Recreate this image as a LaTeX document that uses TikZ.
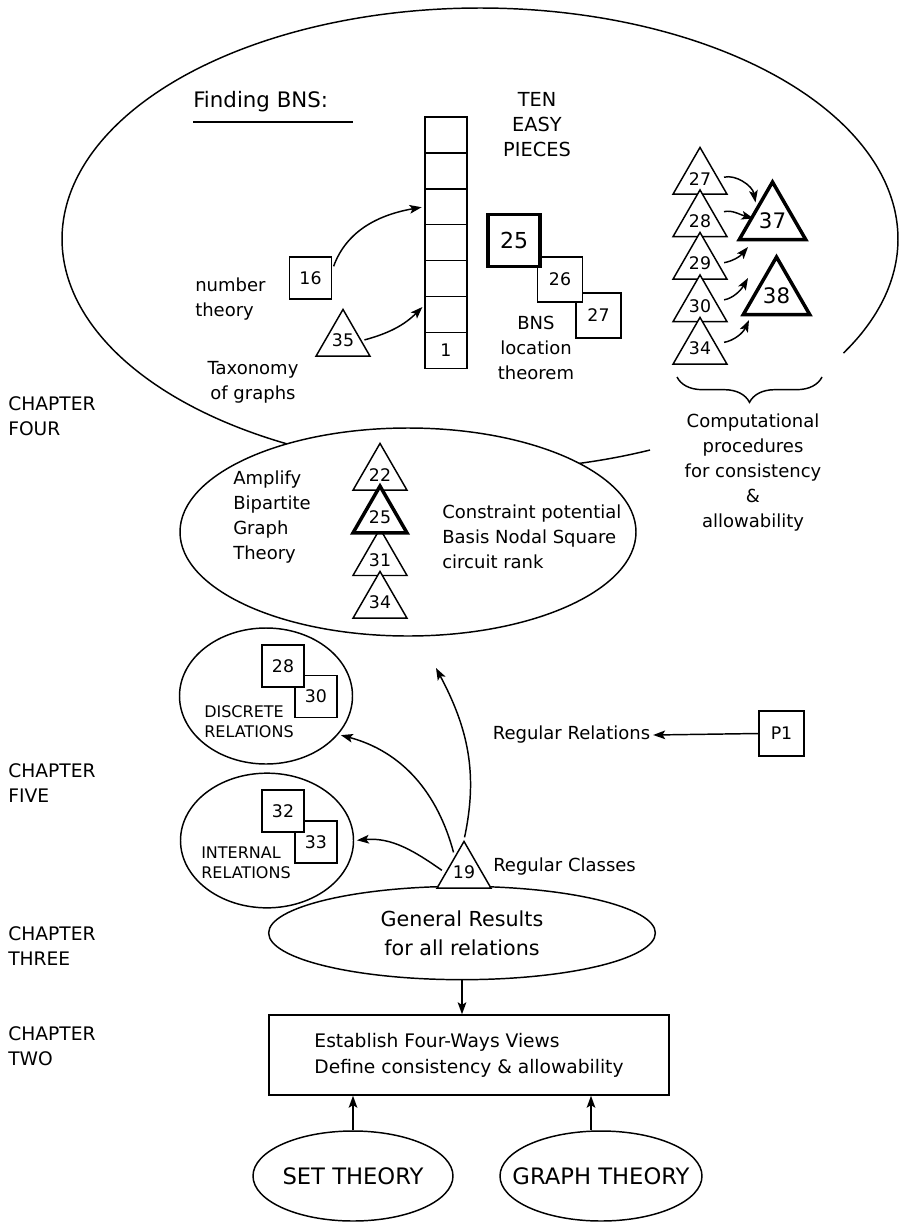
\documentclass[tikz,border=0pt]{standalone}
\usepackage{fontspec}
\setmainfont{DejaVu Sans}
\usetikzlibrary{shapes.geometric,arrows.meta,decorations.pathreplacing,calc}
\newcommand\fsz[2]{\fontsize{#1}{#2}\selectfont}
\tikzset{
  txt/.style={inner sep=0pt, font=\fsz{13.5pt}{18.75pt}},
  chap/.style={inner sep=0pt, anchor=west, align=left, font=\fsz{14pt}{19pt}},
  boxn/.style={draw, line width=1.1pt, fill=white, minimum width=31.5pt, minimum height=31.5pt, inner sep=0pt, font=\fsz{13pt}{13pt}},
  tri/.style={draw, line width=1.1pt, fill=white, regular polygon, regular polygon sides=3, minimum size=43.3pt, inner sep=0pt, font=\fsz{13pt}{13pt}},
  bigtri/.style={tri, line width=2.6pt, minimum size=52.8pt, font=\fsz{16pt}{16pt}},
  cell/.style={draw, line width=1.1pt, minimum width=31.5pt, minimum height=26.9pt, inner sep=0pt, font=\fsz{13pt}{13pt}},
  oval/.style={draw, ellipse, line width=1.1pt, inner sep=0pt},
  arr/.style={line width=1.1pt, -{Stealth[length=9pt,width=6.5pt,inset=2pt]}},
  thinline/.style={line width=1.1pt},
}
\begin{document}
\begin{tikzpicture}[x=0.75pt,y=-0.75pt]
\useasboundingbox (0,0) rectangle (901,1224);

% big open ellipse
\draw[thinline] plot[domain=117:389.6, samples=150, smooth] ({480+418*cos(\x)},{239+231*sin(\x)});
\draw[thinline] plot[domain=66:76.5, samples=10, smooth] ({480+418*cos(\x)},{239+231*sin(\x)});

% Finding BNS
\node[anchor=west, inner sep=0pt, font=\fsz{16pt}{16pt}] (fb) at (193,102) {Finding BNS:};
\draw[thinline] (193,122) -- (353,122);
\node[inner sep=0pt, align=center, font=\fsz{14.5pt}{18.5pt}] (ten) at (537,124.5) {TEN\\EASY\\PIECES};

% column
\foreach \k in {1,...,6} \node[cell] (c\k) at (446,{117+35.9*(\k-0.5)}) {};
\node[cell] (c7) at (446,{117+35.9*6.5}) {1};

\node[boxn] (b16) at (310.5,278) {16};
\node[txt, anchor=west, align=left] (num) at (195,299) {number\\theory};
\node[tri] (t35) at (343,340.6) {35};
\node[txt, align=center] (tax) at (253,382.5) {Taxonomy\\of graphs};

\draw[arr, shorten <=3pt, shorten >=2pt] (b16.20) to[out=70, in=190] (c3.west);
\draw[arr, shorten <=2pt, shorten >=2pt] (t35.east) to[out=15, in=-135] ($(c6.north west)!0.25!(c6.south west)$);

% BNS boxes
\node[boxn, minimum width=34pt, minimum height=34pt] (b27) at (598.5,315.5) {27};
\node[boxn, minimum width=34pt, minimum height=34pt] (b26) at (560,279.5) {26};
\node[boxn, line width=2.6pt, minimum width=39pt, minimum height=39pt, font=\fsz{16.5pt}{16.5pt}] (b25) at (514,240.5) {25};
\node[txt, align=center] (bns) at (536,348) {BNS\\location\\theorem};

% computational triangles
\node[tri] (t27) at (700,178.6) {27};
\node[tri] (t28) at (700,221.1) {28};
\node[tri] (t29) at (700,263.6) {29};
\node[tri] (t30) at (700,306.1) {30};
\node[tri] (t34) at (700,348.6) {34};
\node[bigtri] (t37) at (772.5,220.4) {37};
\node[bigtri] (t38) at (776.5,295.4) {38};

\draw[arr, shorten <=4pt] (t27.east) to[out=15, in=100] ([shift={(-17,-18)}]t37.center);
\draw[arr, shorten <=4pt] ([yshift=6pt]t28.east) to[out=15, in=165] ([shift={(-19,-2)}]t37.center);
\draw[arr, shorten <=4pt] (t29.east) to[out=10, in=-130] ([shift={(-24.5,26.6)}]t37.center);
\draw[arr, shorten <=4pt] ([yshift=4pt]t30.east) to[out=10, in=-120] ([shift={(-28.5,-17.4)}]t38.center);
\draw[arr, shorten <=4pt] ([yshift=4pt]t34.east) to[out=10, in=-115] ([shift={(-27.5,24.6)}]t38.center);

\draw[thinline, decorate, decoration={brace, amplitude=19pt}] (822,377) -- (677,377);
\node[txt, align=center] (comp) at (753,472.5) {Computational\\procedures\\for consistency\\\&\\allowability};

% chapter four ellipse
\node[oval, fill=white, minimum width=342pt, minimum height=156pt] (mid) at (408,532) {};
\node[txt, anchor=west, align=left] (amp) at (233,517.5) {Amplify\\Bipartite\\Graph\\Theory};
\node[tri] (m22) at (380,474.6) {22};
\node[tri] (m31) at (380,559.9) {31};
\node[tri] (m34) at (380,602.6) {34};
\node[tri, line width=2.6pt] (m25) at (380,517.3) {25};
\node[txt, anchor=west, align=left] (cons) at (442,537) {Constraint potential\\Basis Nodal Square\\circuit rank};

% chapter labels
\node[chap] (ch4) at (8,416.5) {CHAPTER\\FOUR};
\node[chap] (ch5) at (8,783) {CHAPTER\\FIVE};
\node[chap] (ch3) at (8,946) {CHAPTER\\THREE};
\node[chap] (ch2) at (8,1046.5) {CHAPTER\\TWO};

% chapter five
\node[oval, minimum width=129.75pt, minimum height=102pt] (disc) at (266,696) {};
\node[boxn] (b30) at (316,696.5) {30};
\node[boxn] (b28) at (283,666) {28};
\node[inner sep=0pt, anchor=west, align=left, font=\fsz{12pt}{15pt}] (dl) at (204,722) {DISCRETE\\RELATIONS};

\node[oval, minimum width=129.75pt, minimum height=101pt] (intl) at (267,840.5) {};
\node[boxn] (b33) at (316,842) {33};
\node[boxn] (b32) at (283,811) {32};
\node[inner sep=0pt, anchor=west, align=left, font=\fsz{12pt}{15pt}] (il) at (201,862.5) {INTERNAL\\RELATIONS};

\node[boxn, minimum width=33.75pt, minimum height=33.75pt] (p1) at (781.5,733.5) {P1};
\node[txt, inner sep=2pt] (rr) at (571.5,735) {Regular Relations};
\draw[arr] (p1.west) -- (rr.east);

% chapter three
\node[oval, minimum width=290pt, minimum height=70pt, label={[font=\fsz{15.5pt}{21.75pt}, align=center]center:General Results\\for all relations}] (gen) at (462,933) {};
\node[tri] (t19) at (464,872.6) {19};
\node[txt, anchor=west] (rc) at (493,867) {Regular Classes};

\coordinate (upend) at (436,668);
\draw[arr, shorten <=2pt] (t19.corner 1) to[out=78, in=-62] (upend);
\draw[arr, shorten <=3pt, shorten >=2pt] (t19.120) to[out=105, in=-15] (disc.-28);
\draw[arr, shorten <=3pt, shorten >=2pt] (t19.west) to[out=145, in=5] (intl.east);

% chapter two
\node[draw, line width=1.1pt, minimum width=300pt, minimum height=60pt, align=left, inner sep=0pt, font=\fsz{14pt}{19.5pt}] (est) at (469,1055) {Establish Four-Ways Views\\Define consistency \& allowability};
\draw[arr] (gen.south) -- (gen.south |- est.north);

\node[oval, minimum width=150pt, minimum height=67.5pt, label={[font=\fsz{17pt}{17pt}]center:SET THEORY}] (set) at (353,1176) {};
\node[oval, minimum width=151.5pt, minimum height=67.5pt, label={[font=\fsz{17pt}{17pt}]center:GRAPH THEORY}] (graph) at (601,1176) {};
\draw[arr] (set.north) -- (set.north |- est.south);
\draw[arr] ([xshift=-7.5pt]graph.north) -- ([xshift=-7.5pt]graph.north |- est.south);
\end{tikzpicture}
\end{document}
